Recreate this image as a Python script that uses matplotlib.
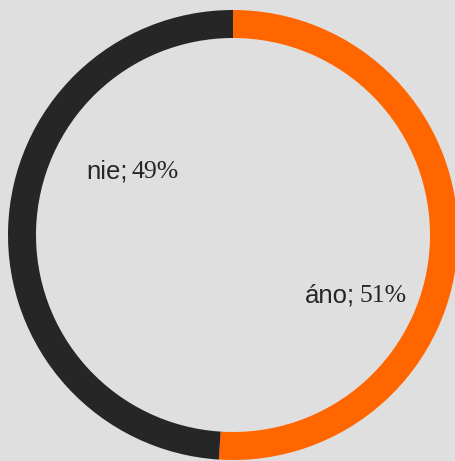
import matplotlib
matplotlib.use("Agg")
import matplotlib.pyplot as plt

labels = ["áno", "nie"]
values = [51, 49]
colors = ["#ff6600", "#262626"]
label_px = [(305, 302), (86, 178)]  # left, baseline of label text in pixels

W, H = 455, 461
fig = plt.figure(figsize=(W / 100, H / 100), dpi=100, facecolor="#dfdfdf")
cx, cy, R, ring = 233, 235, 225, 28
ax = fig.add_axes([(cx - R) / W, (H - cy - R) / H, 2 * R / W, 2 * R / H])
ax.set_facecolor("#dfdfdf")
ax.pie(values, colors=colors, startangle=90, counterclock=False,
       radius=1, wedgeprops=dict(width=ring / R, linewidth=0))
ax.set_xlim(-1, 1)
ax.set_ylim(-1, 1)
ax.set_aspect("equal")

for lab, val, (px, py) in zip(labels, values, label_px):
    x = (px - cx) / R
    y = (cy - py) / R
    t = ax.text(x, y, lab + ";", family="Liberation Sans", fontsize=18.5,
                color="#262626", ha="left", va="baseline")
    fig.canvas.draw()
    bb = t.get_window_extent()
    inv = ax.transData.inverted()
    x2 = inv.transform((bb.x1 + 4, 0))[0]
    ax.text(x2, y, f"{val}%", family="Liberation Serif", fontsize=18.5,
            color="#262626", ha="left", va="baseline")

fig.savefig("out.png", dpi=100, facecolor=fig.get_facecolor())
